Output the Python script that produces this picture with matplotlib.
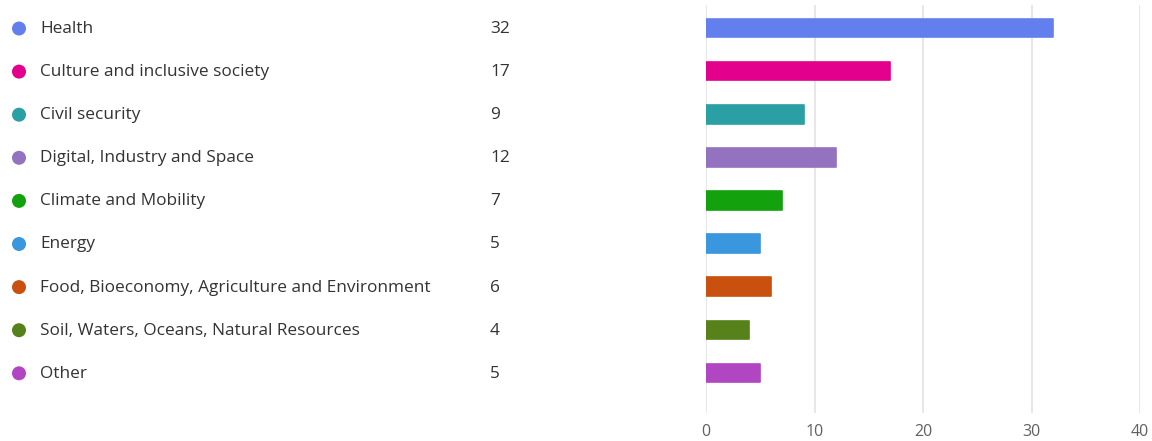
import matplotlib.pyplot as plt
from matplotlib.patches import Ellipse

# --- data ---
categories = ["Health", "Culture and inclusive society", "Civil security",
              "Digital, Industry and Space", "Climate and Mobility", "Energy",
              "Food, Bioeconomy, Agriculture and Environment",
              "Soil, Waters, Oceans, Natural Resources", "Other"]
counts = [32, 17, 9, 12, 7, 5, 6, 4, 5]
colors = ["#637FEE", "#E3008C", "#2AA0A4", "#9373C0", "#13A10E",
          "#3A96DD", "#CA5010", "#57811B", "#B146C2"]
x_ticks = [0, 10, 20, 30, 40]

plt.rcParams['font.family'] = ['Open Sans', 'DejaVu Sans']
TEXT = '#333333'
W, H = 1152, 441

fig = plt.figure(figsize=(W / 100, H / 100), dpi=100)
fig.set_facecolor('white')

# axes placed in pixel terms
ax = fig.add_axes([706 / W, 1 - 413 / H, (1140 - 706) / W, (413 - 5) / H])
ypos = list(range(len(categories)))
ax.barh(ypos, counts, height=0.43, color=colors, edgecolor=colors,
        linewidth=1.2, joinstyle='round', zorder=3)
ax.set_xlim(0, 40)
ax.set_ylim(8.93, -0.535)
ax.set_xticks(x_ticks)
ax.set_yticks([])
ax.grid(axis='x', color='#e3e3e3', linewidth=1.2, zorder=0)
for s in ax.spines.values():
    s.set_visible(False)
ax.tick_params(axis='x', length=0, pad=8, labelsize=11.5, labelcolor='#606060')

# --- left-hand legend table ---
for i, (cat, n, c) in enumerate(zip(categories, counts, colors)):
    yc = 28.5 + i * 43.1
    fy = 1 - yc / H
    fig.patches.append(Ellipse((19 / W, fy), 14 / W, 14 / H, transform=fig.transFigure,
                               facecolor=c, edgecolor='none', figure=fig))
    fig.text(40 / W, fy - 4.5 / H, cat, fontsize=12.4, color=TEXT, ha='left', va='baseline')
    fig.text(490 / W, fy - 4.5 / H, str(n), fontsize=12.4, color=TEXT, ha='left', va='baseline')

fig.savefig('out.png', dpi=100)
